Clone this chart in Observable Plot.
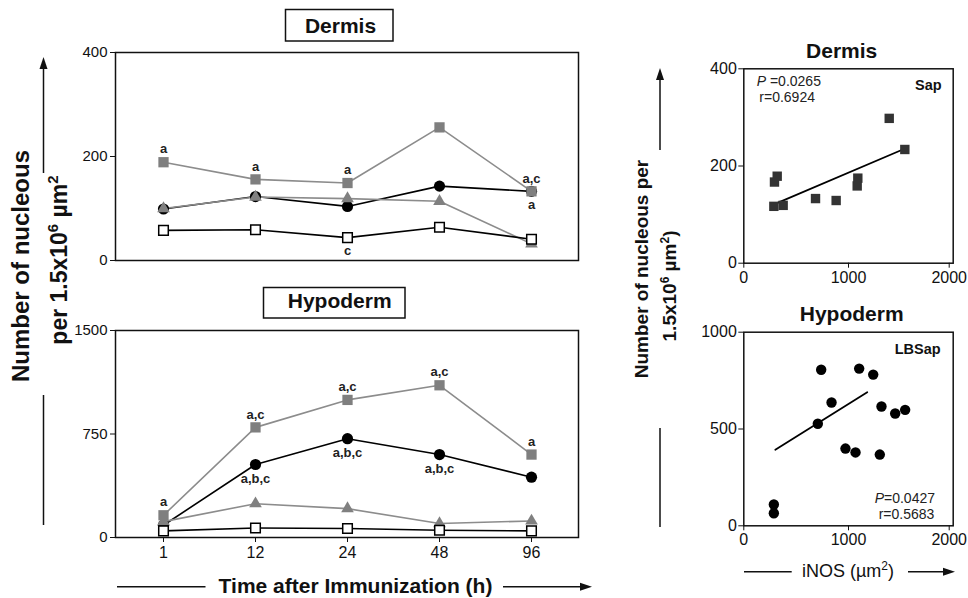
<!DOCTYPE html>
<html><head><meta charset="utf-8">
<script src="https://cdn.jsdelivr.net/npm/d3@7"></script>
<script src="https://cdn.jsdelivr.net/npm/@observablehq/plot@0.6"></script>
<style>
body{margin:0;background:#fff;}
#wrap{position:relative;width:968px;height:598px;overflow:hidden;font-family:"Liberation Sans",Arial,sans-serif;color:#111;}
#wrap svg{position:absolute;}
</style></head><body><div id="wrap"></div>
<script>
// ---------- data ----------
const times = ["1", "12", "24", "48", "96"];
const seriesKeys = ["LBSap", "LB", "Sap", "Control"];

const dermisLBSap   = [99, 123, 104, 143, 133];
const dermisLB      = [100, 122, 119, 114, 32];
const dermisSap     = [189, 156, 149, 256, 133];
const dermisControl = [58, 59, 44, 64, 41];

const hypoLBSap   = [89, 529, 716, 601, 437];
const hypoLB      = [115, 245, 209, 101, 120];
const hypoSap     = [161, 798, 997, 1103, 601];
const hypoControl = [48, 69, 65, 53, 48];

const dermisTicks = [0, 200, 400];
const hypoTicks = [0, 750, 1500];

const dermisLetters = [
  {time: "1", value: 189, label: "a", side: "above"},
  {time: "12", value: 156, label: "a", side: "above"},
  {time: "24", value: 149, label: "a", side: "above"},
  {time: "96", value: 133, label: "a,c", side: "above"},
  {time: "96", value: 133, label: "a", side: "below"},
  {time: "24", value: 44, label: "c", side: "below"}
];
const hypoLetters = [
  {time: "1", value: 161, label: "a", side: "above"},
  {time: "12", value: 798, label: "a,c", side: "above"},
  {time: "24", value: 997, label: "a,c", side: "above"},
  {time: "48", value: 1103, label: "a,c", side: "above"},
  {time: "96", value: 601, label: "a", side: "above"},
  {time: "12", value: 529, label: "a,b,c", side: "below"},
  {time: "24", value: 716, label: "a,b,c", side: "below"},
  {time: "48", value: 601, label: "a,b,c", side: "below"}
];

// scatter: Dermis (Sap)
const dermisInos   = [287, 376, 293, 319, 685, 882, 1083, 1089, 1389, 1538];
const dermisNuclei = [117, 119, 167, 179, 133, 129, 159, 175, 298, 234];
const dermisFitInos = [300, 1530];
const dermisFitNuclei = [122, 235];
// scatter: Hypoderm (LBSap)
const hypoInos   = [287, 287, 707, 739, 838, 971, 1067, 1102, 1236, 1299, 1315, 1446, 1541];
const hypoNuclei = [110, 65, 527, 806, 637, 399, 379, 812, 781, 368, 616, 580, 599];
const hypoFitInos = [301, 1179];
const hypoFitNuclei = [393, 690];

const inosTicks = [0, 1000];
const inosEndTick = [2000];
const scatterDermisTicks = [0, 200, 400];
const scatterHypoTicks = [0, 500, 1000];
const stats = {dermis: {P: "0.0265", r: "0.6924", group: "Sap"}, hypo: {P: "0.0427", r: "0.5683", group: "LBSap"}};

// ---------- styles ----------
const seriesStyle = {
  LBSap:   {symbol: "circle",   r: 5.6, fill: "#000",    stroke: "none", line: "#000"},
  LB:      {symbol: "triangle", r: 4.7, fill: "#808080", stroke: "none", line: "#8c8c8c"},
  Sap:     {symbol: "square",   r: 5.8, fill: "#7f7f7f", stroke: "none", line: "#8c8c8c"},
  Control: {symbol: "square",   r: 5.4, fill: "#fff",    stroke: "#000", line: "#000"}
};
const FONT = "Liberation Sans, Arial, sans-serif";
const baseStyle = {fontFamily: FONT, fontSize: "15px", color: "#111", background: "transparent", overflow: "visible"};
const fmt = d3.format("d");

function rowsFor(valueLists) {
  return seriesKeys.flatMap((k, si) => valueLists[si].map((v, i) => ({series: k, time: times[i], value: v})));
}

function timeChart({values, ticks, domain, letters, height, mt, mb, showX, belowDy}) {
  const rows = rowsFor(values);
  const marks = [
    Plot.axisY({ticks, tickFormat: fmt, tickSize: 5, tickPadding: 3, fontSize: 15, label: null}),
    Plot.frame({stroke: "#111", strokeWidth: 1.5})
  ];
  if (showX) marks.push(Plot.axisX({tickSize: 5, tickPadding: 4, fontSize: 16, label: null}));
  for (const k of seriesKeys) {
    const s = seriesStyle[k];
    marks.push(Plot.line(rows.filter(d => d.series === k), {x: "time", y: "value", stroke: s.line, strokeWidth: 1.6}));
  }
  for (const k of seriesKeys) {
    const s = seriesStyle[k];
    marks.push(Plot.dot(rows.filter(d => d.series === k), {x: "time", y: "value", symbol: s.symbol, r: s.r, fill: s.fill, stroke: s.stroke, strokeWidth: 1.5}));
  }
  marks.push(Plot.text(letters.filter(d => d.side === "above"), {x: "time", y: "value", text: "label", dy: -13, fontSize: 13, fontWeight: "bold", fill: "#222"}));
  marks.push(Plot.text(letters.filter(d => d.side === "below"), {x: "time", y: "value", text: "label", dy: belowDy, fontSize: 13, fontWeight: "bold", fill: "#222"}));
  return Plot.plot({
    width: 600, height, marginLeft: 115, marginRight: 22, marginTop: mt, marginBottom: mb,
    x: {type: "point", domain: times, padding: 0.5, axis: showX ? undefined : null},
    y: {domain},
    style: baseStyle,
    marks
  });
}

function scatterChart({xs, ys, fitX, fitY, yDomain, yTicks, symbol, r, fill, height, mt, mb}) {
  const pts = xs.map((x, i) => ({inos: x, nuclei: ys[i]}));
  const fit = fitX.map((x, i) => ({inos: x, nuclei: fitY[i]}));
  return Plot.plot({
    width: 288, height, marginLeft: 63.3, marginRight: 15.3, marginTop: mt, marginBottom: mb,
    x: {domain: [0, 2000]},
    y: {domain: yDomain},
    style: {...baseStyle, fontSize: "16px"},
    marks: [
      Plot.axisY({ticks: yTicks, tickFormat: fmt, tickSize: 5, tickPadding: 2, fontSize: 16, label: null}),
      Plot.axisX({ticks: inosTicks, tickFormat: fmt, tickSize: 5, tickPadding: 3, fontSize: 16, label: null}),
      Plot.axisX({ticks: inosEndTick, tickFormat: fmt, tickSize: 5, tickPadding: 3, fontSize: 16, label: null, dx: -4}),
      Plot.frame({stroke: "#111", strokeWidth: 1.5}),
      Plot.line(fit, {x: "inos", y: "nuclei", stroke: "#000", strokeWidth: 1.8}),
      Plot.dot(pts, {x: "inos", y: "nuclei", symbol, r, fill})
    ]
  });
}

const wrap = document.getElementById("wrap");
function place(node, left, top) { node.style.left = left + "px"; node.style.top = top + "px"; wrap.appendChild(node); }

place(timeChart({values: [dermisLBSap, dermisLB, dermisSap, dermisControl], ticks: dermisTicks, domain: [0, 400], letters: dermisLetters, height: 280, mt: 52, mb: 20, showX: false, belowDy: 13}), 0, 0);
place(timeChart({values: [hypoLBSap, hypoLB, hypoSap, hypoControl], ticks: hypoTicks, domain: [0, 1500], letters: hypoLetters, height: 290, mt: 50, mb: 33, showX: true, belowDy: 14}), 0, 280);
place(scatterChart({xs: dermisInos, ys: dermisNuclei, fitX: dermisFitInos, fitY: dermisFitNuclei, yDomain: [0, 400], yTicks: scatterDermisTicks, symbol: "square", r: 5.3, fill: "#333", height: 270, mt: 38.3, mb: 37.3}), 680, 30);
place(scatterChart({xs: hypoInos, ys: hypoNuclei, fitX: hypoFitInos, fitY: hypoFitNuclei, yDomain: [0, 1000], yTicks: scatterHypoTicks, symbol: "circle", r: 5.2, fill: "#000", height: 270, mt: 36.7, mb: 39.7}), 680, 295);

// ---------- annotations ----------
const ov = `<svg width="968" height="598" style="left:0;top:0;pointer-events:none" font-family="${FONT}" fill="#111">
 <line x1="43.5" y1="173" x2="43.5" y2="66" stroke="#111" stroke-width="1.5"/>
 <path d="M43.5,57 L39.5,69 L47.5,69 Z"/>
 <line x1="43.5" y1="395" x2="43.5" y2="525" stroke="#111" stroke-width="1.5"/>
 <text transform="translate(29,266) rotate(-90)" text-anchor="middle" font-weight="bold" font-size="24">Number of nucleous</text>
 <text transform="translate(67,260) rotate(-90)" text-anchor="middle" font-weight="bold" font-size="23">per 1.5x10<tspan dy="-9" font-size="15">6</tspan><tspan dy="9"> µm</tspan><tspan dy="-9" font-size="15">2</tspan></text>

 <rect x="285.5" y="9.5" width="107.5" height="31.5" fill="#fff" stroke="#111" stroke-width="1.5"/>
 <text x="340.5" y="33" text-anchor="middle" font-weight="bold" font-size="21">Dermis</text>
 <rect x="263.5" y="287.5" width="141.5" height="30.5" fill="#fff" stroke="#111" stroke-width="1.5"/>
 <text x="339.7" y="308" text-anchor="middle" font-weight="bold" font-size="21">Hypoderm</text>

 <line x1="117" y1="586.8" x2="205.5" y2="586.8" stroke="#111" stroke-width="1.5"/>
 <text x="355.5" y="593" text-anchor="middle" font-weight="bold" font-size="21">Time after Immunization (h)</text>
 <line x1="503" y1="586.8" x2="583" y2="586.8" stroke="#111" stroke-width="1.5"/>
 <path d="M592,586.8 L580,582.8 L580,590.8 Z"/>

 <line x1="660" y1="150" x2="660" y2="77" stroke="#111" stroke-width="1.5"/>
 <path d="M660,68 L656,80 L664,80 Z"/>
 <line x1="660" y1="428" x2="660" y2="527" stroke="#111" stroke-width="1.5"/>
 <text transform="translate(648,269) rotate(-90)" text-anchor="middle" font-weight="bold" font-size="19">Number of nucleous per</text>
 <text transform="translate(676,286) rotate(-90)" text-anchor="middle" font-weight="bold" font-size="19">1.5x10<tspan dy="-7" font-size="12">6</tspan><tspan dy="7"> µm</tspan><tspan dy="-7" font-size="12">2</tspan><tspan dy="7">)</tspan></text>

 <text x="841.7" y="58.3" text-anchor="middle" font-weight="bold" font-size="21">Dermis</text>
 <text x="851.7" y="320.7" text-anchor="middle" font-weight="bold" font-size="21">Hypoderm</text>
 <text x="941.7" y="90" text-anchor="end" font-weight="bold" font-size="14.5">${stats.dermis.group}</text>
 <text x="940.7" y="354" text-anchor="end" font-weight="bold" font-size="14.5">${stats.hypo.group}</text>
 <text x="756.7" y="86" font-size="14" fill="#222"><tspan font-style="italic">P</tspan> =${stats.dermis.P}</text>
 <text x="759.3" y="102" font-size="14" fill="#222">r=${stats.dermis.r}</text>
 <text x="935" y="503" text-anchor="end" font-size="14" fill="#222"><tspan font-style="italic">P</tspan>=${stats.hypo.P}</text>
 <text x="934.3" y="519" text-anchor="end" font-size="14" fill="#222">r=${stats.hypo.r}</text>

 <line x1="744" y1="571.7" x2="791.7" y2="571.7" stroke="#111" stroke-width="1.5"/>
 <text x="848" y="577.3" text-anchor="middle" font-size="18">iNOS (µm<tspan dy="-7" font-size="12">2</tspan><tspan dy="7">)</tspan></text>
 <line x1="908" y1="571.7" x2="946" y2="571.7" stroke="#111" stroke-width="1.5"/>
 <path d="M955,571.7 L943,567.7 L943,575.7 Z"/>
</svg>`;
wrap.insertAdjacentHTML("beforeend", ov);
</script>
</body></html>
